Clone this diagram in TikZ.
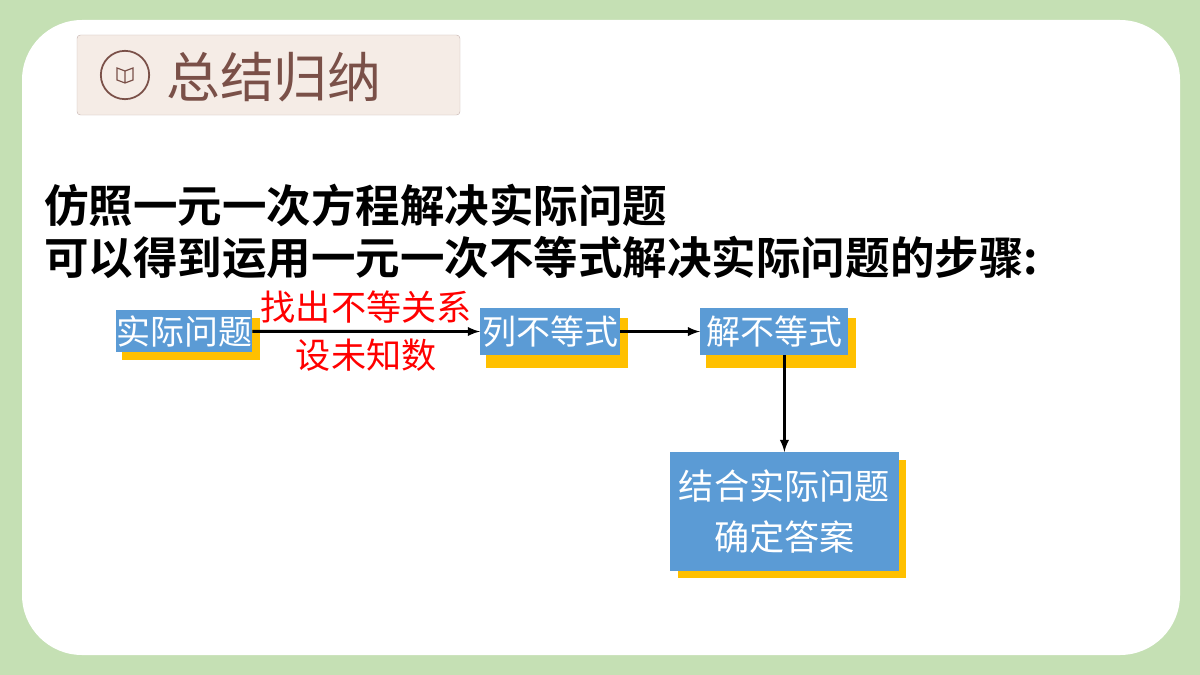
\documentclass[tikz,border=0pt]{standalone}
\usepackage{fontspec}
\newfontfamily\cjk{Noto Sans CJK SC}
\newfontfamily\cjkb{Noto Sans CJK SC Bold}
\definecolor{bgreen}{HTML}{C5E0B4}
\definecolor{stepblue}{HTML}{5B9BD5}
\definecolor{shadowyel}{HTML}{FFC000}
\definecolor{tagfill}{HTML}{F5ECE6}
\definecolor{tagbrown}{HTML}{7A5048}
\tikzset{
  stepbox/.style={fill=stepblue,text=white,font=\cjk\fontsize{29}{34}\selectfont,inner sep=0pt,
    minimum height=1.4cm,align=center},
  shadowbox/.style={fill=shadowyel},
  link/.style={line width=2.5pt,-latex}
}
\begin{document}
\begin{tikzpicture}[x=0.03cm,y=-0.03cm]
  \useasboundingbox (0,0) rectangle (1200,675);
  \fill[bgreen] (0,0) rectangle (1200,675);
  \fill[white,rounded corners=1.8cm] (22,20) rectangle (1180,655);
  % header tag
  \draw[fill=tagfill,draw=tagbrown!40,rounded corners=3pt] (77,35) rectangle (460,115);
  \node[circle,draw=tagbrown,line width=1.5pt,minimum size=1.45cm] (icon) at (125,75) {};
  \draw[tagbrown,line width=1pt] (117,68) -- (125,71) -- (133,68) -- (133,80) -- (125,83) -- (117,80) -- cycle (125,71) -- (125,83);
  \node[font=\cjk\fontsize{46}{48}\selectfont,text=tagbrown,anchor=west] (title) at (162,77) {总结归纳};
  % intro lines
  \node[font=\cjkb\fontsize{38}{44}\selectfont,anchor=west] (line1) at (40,205) {仿照一元一次方程解决实际问题};
  \node[font=\cjkb\fontsize{38}{44}\selectfont,anchor=west] (line2) at (40,258) {可以得到运用一元一次不等式解决实际问题的步骤:};
  % steps
  \fill[shadowbox] (122,318) rectangle (260,360);
  \node[stepbox,minimum width=4.08cm,minimum height=1.26cm,anchor=north west] (s1) at (116,310) {实际问题};
  \fill[shadowbox] (486,318) rectangle (628,368);
  \node[stepbox,minimum width=4.2cm,anchor=north west] (s2) at (480,308) {列不等式};
  \fill[shadowbox] (706,318) rectangle (856,368);
  \node[stepbox,minimum width=4.44cm,anchor=north west] (s3) at (700,308) {解不等式};
  \fill[shadowbox] (678,460) rectangle (906,578);
  \node[stepbox,minimum width=6.85cm,minimum height=3.55cm,font=\cjk\fontsize{30}{44}\selectfont,anchor=north west] (s4) at (670,452) {结合实际问题\\确定答案};
  \draw[link] (s1) -- (s2) node[midway,above=2pt,text=red,font=\cjk\fontsize{30}{34}\selectfont] {找出不等关系}
    node[midway,below=2pt,text=red,font=\cjk\fontsize{30}{34}\selectfont] {设未知数};
  \draw[link] (s2) -- (s3);
  \draw[link] (s3.south -| s4) -- (s4);
\end{tikzpicture}
\end{document}
